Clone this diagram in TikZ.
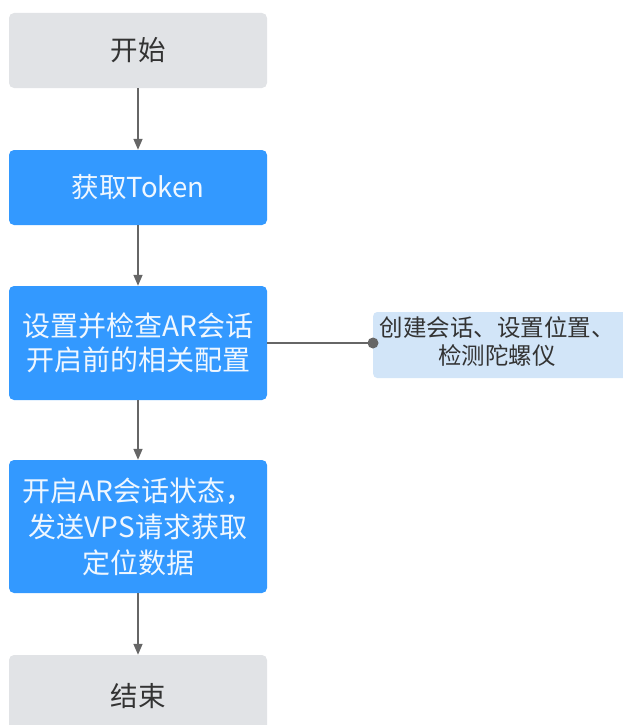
\documentclass[tikz,border=0pt]{standalone}
\usepackage{fontspec}
\setmainfont{Noto Sans CJK SC}
\usetikzlibrary{arrows.meta}
\definecolor{boxgray}{HTML}{E1E3E6}
\definecolor{boxblue}{HTML}{3399FF}
\definecolor{notefill}{HTML}{D2E5F8}
\definecolor{linegray}{HTML}{666666}
\definecolor{txtdark}{HTML}{333333}
\tikzset{
  base/.style={rounded corners=5pt, minimum width=258pt, inner sep=0pt, align=center},
  termbox/.style={base, fill=boxgray, text=txtdark, font=\fontsize{27.5}{34}\selectfont},
  procbox/.style={base, fill=boxblue, text=white!92!boxblue},
  notebox/.style={rounded corners=4pt, fill=notefill, text=txtdark, minimum width=257pt, minimum height=66pt, inner sep=0pt, align=center, font=\fontsize{23.5}{27}\selectfont},
  flow/.style={draw=linegray, line width=1.6pt, -{Triangle[length=11pt,width=9pt]}},
}
\begin{document}
\begin{tikzpicture}[x=1pt,y=-1pt]
\useasboundingbox (0,0) rectangle (623,725);
\clip (0,0) rectangle (623,725);
\node[termbox, minimum height=75pt] (start) at (138,50.5) {开始};
\node[procbox, minimum height=75pt, font=\fontsize{27.5}{34}\selectfont] (token) at (138,187.5) {获取Token};
\node[procbox, minimum height=114pt, font=\fontsize{28}{34}\selectfont] (config) at (138,343) {设置并检查AR会话\\开启前的相关配置};
\node[procbox, minimum height=133pt, font=\fontsize{28}{36}\selectfont] (session) at (138,526.5) {开启AR会话状态，\\发送VPS请求获取\\定位数据};
\node[termbox, minimum height=82pt] (end) at (138,696) {结束};
\node[notebox, anchor=west] (note) at (373,345) {};
\node[text=txtdark, align=center, inner sep=0pt, font=\fontsize{23.5}{28}\selectfont] (notetext) at (497,342) {创建会话、设置位置、\\检测陀螺仪};
\coordinate (dot) at (note.west |- config.east);
\draw[flow] (start) -- (token);
\draw[flow] (token) -- (config);
\draw[flow] (config) -- (session);
\draw[flow] (session) -- (end);
\draw[draw=linegray, line width=1.6pt] (config.east) -- (dot);
\fill[linegray] (dot) circle (5.5pt);
\end{tikzpicture}
\end{document}
